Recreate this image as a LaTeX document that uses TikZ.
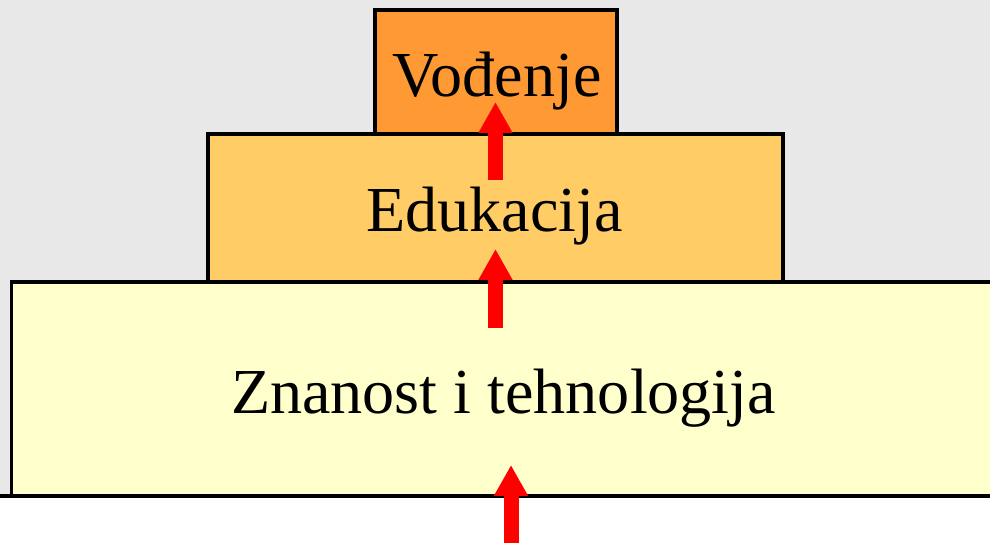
\documentclass[tikz,border=0pt]{standalone}
\usepackage{fontspec}
\setmainfont{Liberation Serif}
\usetikzlibrary{arrows.meta}
\definecolor{bgGray}{HTML}{E8E8E8}
\definecolor{leadOrange}{HTML}{FF9933}
\definecolor{eduYellow}{HTML}{FFCC66}
\definecolor{sciCream}{HTML}{FFFFCC}
\begin{document}
\begin{tikzpicture}[x=0.02cm,y=-0.02cm,
  layer/.style={draw=black,line width=1.8pt,rectangle,inner sep=0pt},
  layertext/.style={anchor=base,inner sep=0pt,font=\fontsize{36.5}{42}\selectfont},
  upArrow/.style={draw=red,line width=0.3cm,-{Triangle[width=0.64cm,length=0.62cm]}}]
\useasboundingbox (0,0) rectangle (990,543);
\clip (0,0) rectangle (990,543);
\fill[bgGray] (0,0) rectangle (990,496); % background

\node[layer,fill=sciCream,minimum width=19.7cm,minimum height=4.28cm] (science) at (503.5,389) {};
\node[layer,fill=eduYellow,minimum width=11.5cm,minimum height=2.96cm] (education) at (495.5,208) {};
\node[layer,fill=leadOrange,minimum width=4.84cm,minimum height=2.48cm] (leading) at (496,72) {};
\draw[line width=1.8pt] (0,496) -- (990,496); % ground

\node[layertext] (leadingText) at (497,97) {Vođenje};
\node[layertext] (educationText) at (494.5,231.5) {Edukacija};
\node[layertext] (scienceText) at (503.5,414) {Znanost i tehnologija};

\coordinate (a1s) at (495.5,180);
\coordinate (a1t) at (495.5,102);
\coordinate (a2s) at (495.5,328);
\coordinate (a2t) at (495.5,249);
\coordinate (a3s) at (511,545);
\coordinate (a3t) at (511,465);
\draw[upArrow] (a1s) -- (a1t); % to top
\draw[upArrow] (a2s) -- (a2t); % to middle
\draw[upArrow] (a3s) -- (a3t); % to bottom
\end{tikzpicture}
\end{document}
